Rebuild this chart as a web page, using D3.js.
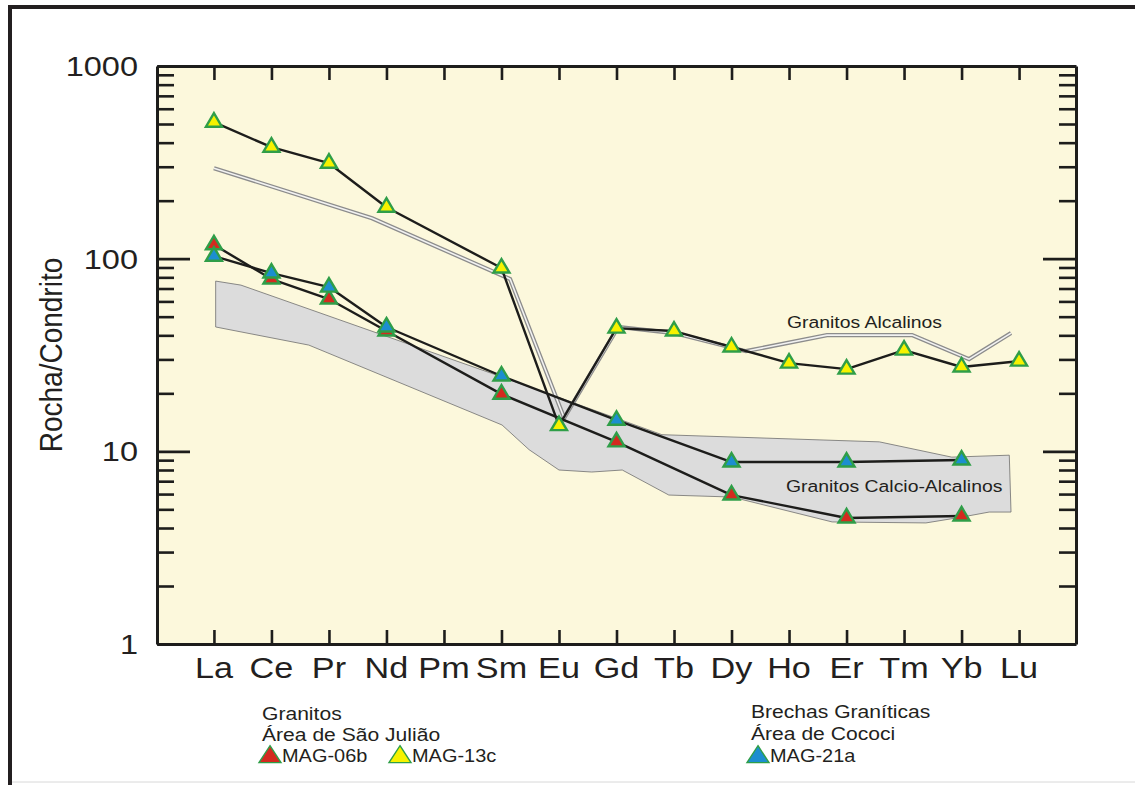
<!DOCTYPE html>
<html>
<head>
<meta charset="utf-8">
<script src="https://cdn.jsdelivr.net/npm/d3@7"></script>
<style>
  html, body { margin: 0; padding: 0; background: #ffffff; }
  svg { display: block; }
  text { font-family: "Liberation Sans", Arial, sans-serif; fill: #231f20; }
</style>
</head>
<body>
<svg id="chart" width="1135" height="785"></svg>
<script>
// Rare earth elements, chondrite-normalised
const elements = ["La","Ce","Pr","Nd","Pm","Sm","Eu","Gd","Tb","Dy","Ho","Er","Tm","Yb","Lu"];

// Granitos, Área de São Julião
const mag06b = [118, 78.4, 61.7, 42.1, null, 19.8, null, 11.2, null, 5.93, null, 4.51, null, 4.62, null];
const mag13c = [511, 379, 313, 185, null, 89.4, 13.6, 43.6, 42.1, 34.8, 28.7, 26.7, 33.5, 27.4, 29.4];
// Brechas Graníticas, Área de Cococi
const mag21a = [103, 84.2, 71.2, 44.2, null, 24.6, null, 14.5, null, 8.80, null, 8.80, null, 9.01, null];

// Reference fields: [position along the REE sequence (0 = La), rock/chondrite]
const alcalinosField = [[0,295],[2.75,162],[5.15,78.4],[6.09,14.9],[7.03,44.2],[8.0,41.1],
  [9.25,33.1],[10.66,40.1],[12.14,40.1],[13.13,30.1],[13.86,41.1]];
const calcioAlcalinosField = [[0.03,76.5],[0.47,72.9],[5.01,24.3],[7.79,12.2],[11.57,11.2],
  [12.83,9.33],[13.83,9.55],[13.86,4.84],[13.48,4.84],[13.01,4.56],[12.38,4.25],[10.75,4.30],
  [9.01,5.79],[7.91,5.93],[7.10,8.00],[6.57,7.81],[6.00,8.00],[5.48,10.2],[5.01,13.7],
  [1.65,35.6],[0.03,44.2]];

const majorTicks = [1, 10, 100, 1000];
const minorTicks = [];
[1, 10, 100].forEach(d => { for (let k = 2; k <= 9; k++) minorTicks.push(d * k); });

const svg = d3.select("#chart");
const W = 1135, H = 785;
const plot = { left: 157, right: 1076, top: 66, bottom: 644 };
const SX = 1.14; // horizontal text stretch

const x = d3.scalePoint().domain(elements).range([plot.left, plot.right]).padding(0.99);
const xi = i => x(elements[0]) + i * x.step();
const y = d3.scaleLog().domain([1, 1000]).range([plot.bottom, plot.top]);

function stext(g, px, py, str, size, anchor) {
  return g.append("text")
    .attr("transform", `translate(${px},${py}) scale(${SX},1)`)
    .attr("text-anchor", anchor || "start")
    .style("font-size", size + "px")
    .text(str);
}

// outer frame
svg.append("line").attr("x1", 8).attr("x2", W).attr("y1", 7).attr("y2", 7)
  .attr("stroke", "#231f20").attr("stroke-width", 4);
svg.append("line").attr("x1", 10).attr("x2", 10).attr("y1", 5).attr("y2", H)
  .attr("stroke", "#231f20").attr("stroke-width", 4);
svg.append("line").attr("x1", 12).attr("x2", W).attr("y1", 782).attr("y2", 782)
  .attr("stroke", "#d8d8d8").attr("stroke-width", 1);

// plot background
svg.append("rect").attr("x", plot.left).attr("y", plot.top)
  .attr("width", plot.right - plot.left).attr("height", plot.bottom - plot.top)
  .attr("fill", "#fcf8dc");

// calc-alkaline granite field
svg.append("path")
  .attr("d", d3.line().x(d => xi(d[0])).y(d => y(d[1]))(calcioAlcalinosField) + "Z")
  .attr("fill", "#dcdcdc").attr("stroke", "#6e6e6e").attr("stroke-width", 0.8);

// alkaline granite field (double line)
const fieldLine = d3.line().x(d => xi(d[0])).y(d => y(d[1]));
svg.append("path").attr("d", fieldLine(alcalinosField))
  .attr("fill", "none").attr("stroke", "#8c8c8c").attr("stroke-width", 4.2)
  .attr("stroke-linejoin", "miter");
svg.append("path").attr("d", fieldLine(alcalinosField))
  .attr("fill", "none").attr("stroke", "#f2f2f2").attr("stroke-width", 1.6)
  .attr("stroke-linejoin", "miter");

// field labels
stext(svg, 787, 328, "Granitos Alcalinos", 17);
stext(svg, 786, 492, "Granitos Calcio-Alcalinos", 17);

// sample patterns
const series = [
  { name: "MAG-06b", values: mag06b, fill: "#d42a1f" },
  { name: "MAG-21a", values: mag21a, fill: "#1c8ed0" },
  { name: "MAG-13c", values: mag13c, fill: "#f6f200" }
];
const sampleLine = d3.line().x(d => x(d.el)).y(d => y(d.v));
series.forEach(s => {
  s.points = elements.map((el, i) => ({ el, v: s.values[i] })).filter(d => d.v != null);
  svg.append("path").attr("d", sampleLine(s.points))
    .attr("fill", "none").attr("stroke", "#1d1d1b").attr("stroke-width", 2.4)
    .attr("stroke-linejoin", "round");
});

function tri(w, h) {
  return `M0,${-2 * h / 3}L${w / 2},${h / 3}L${-w / 2},${h / 3}Z`;
}
series.forEach(s => {
  svg.append("g").selectAll("path").data(s.points).join("path")
    .attr("transform", d => `translate(${x(d.el)},${y(d.v)})`)
    .attr("d", tri(16, 13.5))
    .attr("fill", s.fill).attr("stroke", "#2f9e48").attr("stroke-width", 2.4)
    .attr("stroke-linejoin", "miter");
});

// axes
const axisStyle = g => {
  g.selectAll("path.domain").attr("stroke", "#1d1d1b").attr("stroke-width", 3);
  g.selectAll(".tick line").attr("stroke", "#1d1d1b").attr("stroke-width", 2.6);
  g.selectAll(".tick text").remove();
};
svg.append("g").attr("transform", `translate(${plot.left},0)`)
  .call(d3.axisLeft(y).tickValues(majorTicks).tickSize(-33).tickSizeOuter(0).tickFormat(""))
  .call(axisStyle);
svg.append("g").attr("transform", `translate(${plot.left},0)`)
  .call(d3.axisLeft(y).tickValues(minorTicks).tickSize(-17).tickSizeOuter(0).tickFormat(""))
  .call(axisStyle).call(g => g.select(".domain").remove());
svg.append("g").attr("transform", `translate(${plot.right},0)`)
  .call(d3.axisRight(y).tickValues(majorTicks).tickSize(-33).tickSizeOuter(0).tickFormat(""))
  .call(axisStyle);
svg.append("g").attr("transform", `translate(${plot.right},0)`)
  .call(d3.axisRight(y).tickValues(minorTicks).tickSize(-17).tickSizeOuter(0).tickFormat(""))
  .call(axisStyle).call(g => g.select(".domain").remove());
svg.append("g").attr("transform", `translate(0,${plot.top})`)
  .call(d3.axisTop(x).tickSize(-14).tickSizeOuter(0).tickFormat(""))
  .call(axisStyle);
svg.append("g").attr("transform", `translate(0,${plot.bottom})`)
  .call(d3.axisBottom(x).tickSize(-14).tickSizeOuter(0).tickFormat(""))
  .call(axisStyle);

// tick labels
majorTicks.forEach(v => stext(svg, 138, y(v) + 10, String(v), 28.5, "end"));
elements.forEach(el => stext(svg, x(el), 678, el, 30, "middle"));

// y axis title
svg.append("text")
  .attr("transform", `translate(62,355) scale(${SX},1) rotate(-90)`)
  .attr("text-anchor", "middle")
  .style("font-size", "28px")
  .text("Rocha/Condrito");

// legends
const legend1 = svg.append("g");
stext(legend1, 262, 720, "Granitos", 18.5);
stext(legend1, 262, 741, "Área de São Julião", 18.5);
legend1.append("path").attr("transform", "translate(270,757)").attr("d", tri(22, 17))
  .attr("fill", "#d42a1f").attr("stroke", "#2f9e48").attr("stroke-width", 1.4);
stext(legend1, 282, 762, "MAG-06b", 17.5);
legend1.append("path").attr("transform", "translate(400,757)").attr("d", tri(22, 17))
  .attr("fill", "#f6f200").attr("stroke", "#2f9e48").attr("stroke-width", 1.4);
stext(legend1, 412, 762, "MAG-13c", 17.5);

const legend2 = svg.append("g");
stext(legend2, 751, 718, "Brechas Graníticas", 18.5);
stext(legend2, 751, 740, "Área de Cococi", 18.5);
legend2.append("path").attr("transform", "translate(758,757)").attr("d", tri(22, 17))
  .attr("fill", "#1c8ed0").attr("stroke", "#2f9e48").attr("stroke-width", 1.4);
stext(legend2, 770, 762, "MAG-21a", 17.5);
</script>
</body>
</html>
